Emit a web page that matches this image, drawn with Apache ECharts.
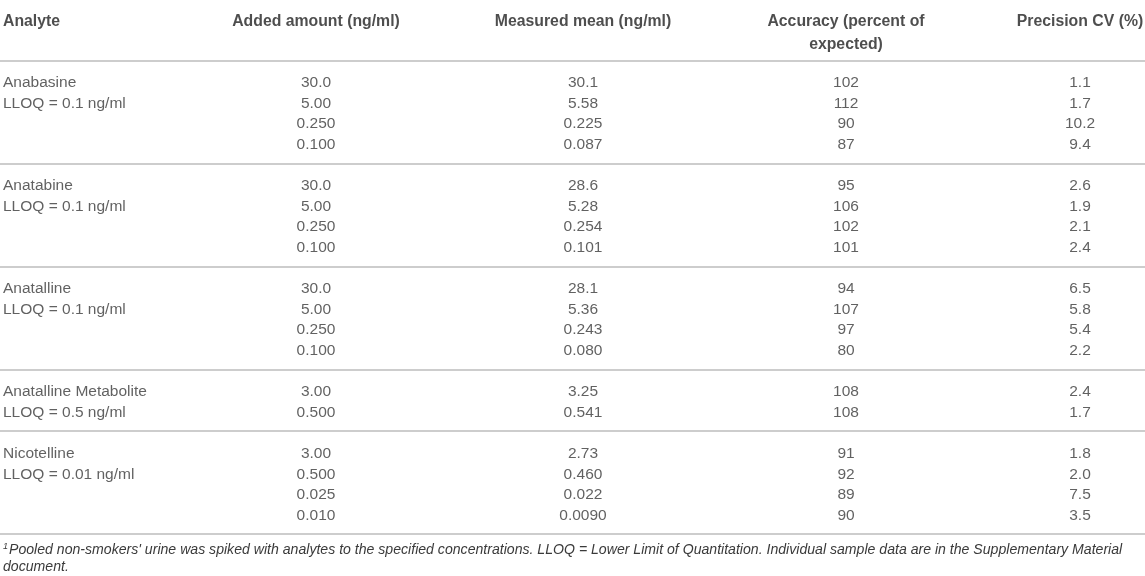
<!DOCTYPE html>
<html>
<head>
<meta charset="utf-8">
<title>Accuracy and precision</title>
<script src="https://cdn.jsdelivr.net/npm/echarts@6/dist/echarts.min.js"></script>
<style>
  html, body { margin: 0; padding: 0; background: #fff; }
  #table-chart { width: 1145px; height: 576px; }
</style>
</head>
<body>
<div id="table-chart"></div>
<script>
// table content
var headers = ['Analyte', 'Added amount (ng/ml)', 'Measured mean (ng/ml)', 'Accuracy (percent of\nexpected)', 'Precision CV (%)'];
var analytes = ['Anabasine', 'Anatabine', 'Anatalline', 'Anatalline Metabolite', 'Nicotelline'];
var lloq = ['LLOQ = 0.1 ng/ml', 'LLOQ = 0.1 ng/ml', 'LLOQ = 0.1 ng/ml', 'LLOQ = 0.5 ng/ml', 'LLOQ = 0.01 ng/ml'];
var added = [
    ['30.0', '5.00', '0.250', '0.100'],
    ['30.0', '5.00', '0.250', '0.100'],
    ['30.0', '5.00', '0.250', '0.100'],
    ['3.00', '0.500'],
    ['3.00', '0.500', '0.025', '0.010']
];
var measured = [
    ['30.1', '5.58', '0.225', '0.087'],
    ['28.6', '5.28', '0.254', '0.101'],
    ['28.1', '5.36', '0.243', '0.080'],
    ['3.25', '0.541'],
    ['2.73', '0.460', '0.022', '0.0090']
];
var accuracy = [
    ['102', '112', '90', '87'],
    ['95', '106', '102', '101'],
    ['94', '107', '97', '80'],
    ['108', '108'],
    ['91', '92', '89', '90']
];
var precision = [
    ['1.1', '1.7', '10.2', '9.4'],
    ['2.6', '1.9', '2.1', '2.4'],
    ['6.5', '5.8', '5.4', '2.2'],
    ['2.4', '1.7'],
    ['1.8', '2.0', '7.5', '3.5']
];
var footnote = ['Pooled non-smokers\' urine was spiked with analytes to the specified concentrations. LLOQ = Lower Limit of Quantitation. Individual sample data are in the Supplementary Material', 'document.'];

// layout: x axis runs across the page width, column anchors sit on it;
// y axis counts row slots (one blank slot between analyte groups)
var X_MIN = 0, X_MAX = 1145;
var COLUMN_X = [0, 316, 583, 846, 1080];
var Y_MIN = -4.029, Y_MAX = 23.932;
var HEADER_SLOT = -3;
var RULE_SHIFT = -0.1;

var font = "'Liberation Sans', Arial, Helvetica, sans-serif";
var textColor = '#3a3a3a';

var leftCells = [], numCells = [], headerCells = [];
var rules = [{ yAxis: Y_MIN }, { yAxis: -1 + RULE_SHIFT }];
var slot = 0;
for (var g = 0; g < analytes.length; g++) {
    leftCells.push([COLUMN_X[0], slot, analytes[g]]);
    leftCells.push([COLUMN_X[0], slot + 1, lloq[g]]);
    var cols = [added[g], measured[g], accuracy[g], precision[g]];
    for (var r = 0; r < added[g].length; r++) {
        for (var c = 0; c < cols.length; c++) {
            numCells.push([COLUMN_X[c + 1], slot + r, cols[c][r]]);
        }
    }
    slot += added[g].length;
    rules.push({ yAxis: slot + RULE_SHIFT });
    slot += 1;
}
// header labels: first column left aligned, the rest centred
for (var h = 0; h < headers.length; h++) {
    headerCells.push({
        value: [COLUMN_X[h], HEADER_SLOT, headers[h]],
        label: { align: h === 0 ? 'left' : 'center', offset: h === 0 ? [3, -11.5] : [0, -11.5] }
    });
}

function cellText(p) {
    return p.value[2];
}

var dom = document.getElementById('table-chart');
var myChart = echarts.init(dom);
var option = {
    animation: false,
    textStyle: { fontFamily: font },
    grid: { left: 0, right: 0, top: 0, bottom: 0 },
    xAxis: { type: 'value', min: X_MIN, max: X_MAX, show: false },
    yAxis: { type: 'value', min: Y_MIN, max: Y_MAX, inverse: true, show: false },
    graphic: [{
        type: 'text',
        left: 3,
        top: 542,
        style: {
            text: '{s|1}{t|' + footnote[0] + '}\n{t|' + footnote[1] + '}',
            rich: {
                s: { fontSize: 9, fontStyle: 'italic', fontFamily: font, fill: textColor, verticalAlign: 'top', padding: [0, 1, 6, 0] },
                t: { fontSize: 14.1, fontStyle: 'italic', fontFamily: font, fill: textColor, lineHeight: 17 }
            }
        }
    }],
    series: [{
        name: 'header',
        type: 'scatter',
        symbolSize: 0,
        silent: true,
        data: headerCells,
        label: {
            show: true,
            position: [0, 0],
            verticalAlign: 'top',
            fontSize: 15.8,
            fontWeight: 'bold',
            lineHeight: 23,
            color: '#222',
            formatter: cellText
        }
    }, {
        name: 'analyte',
        type: 'scatter',
        symbolSize: 0,
        silent: true,
        data: leftCells,
        label: {
            show: true,
            position: [0, 0],
            offset: [3, 0],
            align: 'left',
            verticalAlign: 'middle',
            fontSize: 15.5,
            color: textColor,
            formatter: cellText
        },
        markLine: {
            silent: true,
            symbol: 'none',
            label: { show: false },
            lineStyle: { color: '#cdcdcd', width: 2, type: 'solid' },
            data: rules
        }
    }, {
        name: 'values',
        type: 'scatter',
        symbolSize: 0,
        silent: true,
        data: numCells,
        label: {
            show: true,
            position: [0, 0],
            align: 'center',
            verticalAlign: 'middle',
            fontSize: 15.5,
            color: textColor,
            formatter: cellText
        }
    }]
};
myChart.setOption(option, true);
</script>
</body>
</html>
